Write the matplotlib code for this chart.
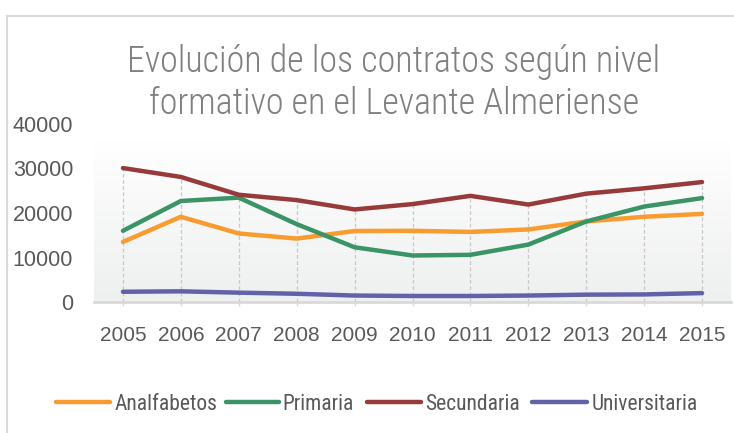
import matplotlib
matplotlib.use("Agg")
import matplotlib.pyplot as plt
import numpy as np
from matplotlib import font_manager as fm
from matplotlib.lines import Line2D

years = ["2005", "2006", "2007", "2008", "2009", "2010", "2011", "2012", "2013", "2014", "2015"]
analfabetos = [13500, 19150, 15400, 14250, 15950, 16000, 15750, 16300, 18100, 19150, 19800]
primaria = [16000, 22700, 23450, 17500, 12300, 10450, 10600, 12900, 18100, 21450, 23350]
secundaria = [30100, 28100, 24100, 22900, 20800, 22000, 23850, 21900, 24350, 25550, 26950]
universitaria = [2300, 2400, 2100, 1850, 1450, 1350, 1350, 1450, 1650, 1700, 2000]

series_names = ["Analfabetos", "Primaria", "Secundaria", "Universitaria"]
series_values = [analfabetos, primaria, secundaria, universitaria]
series_colors = ["#F89C30", "#3A9465", "#973A3A", "#6262AA"]
y_ticks = [0, 10000, 20000, 30000, 40000]
title_lines = ["Evolución de los contratos según nivel", "formativo en el Levante Almeriense"]

names = {f.name for f in fm.fontManager.ttflist}
narrow = "Liberation Sans"
for cand in ["Liberation Sans Narrow", "DejaVu Sans Condensed", "Roboto Condensed", "Open Sans Condensed"]:
    if cand in names:
        narrow = cand
        break
plt.rcParams["font.family"] = [narrow, "DejaVu Sans"]

W, H = 734, 433
fig = plt.figure(figsize=(W / 100, H / 100), dpi=100)
renderer = fig.canvas.get_renderer()

# outer chart frame
frame = "#D9D9D9"
fig.add_artist(Line2D([7 / W, 1.0], [1 - 16 / H, 1 - 16 / H], color=frame, lw=1.5, transform=fig.transFigure))
fig.add_artist(Line2D([7 / W, 7 / W], [0, 1 - 16 / H], color=frame, lw=1.5, transform=fig.transFigure))

left, right = 94 / W, 731 / W
bottom, top = 1 - 302 / H, 1 - 124 / H
ax = fig.add_axes([left, bottom, right - left, top - bottom])

x = np.arange(len(years))
ax.set_xlim(-0.5, len(years) - 0.5)
ax.set_ylim(0, 40000)

# plot-area gradient fill (white at top fading to light grey)
grad = np.linspace(1.0, 0.0, 256).reshape(-1, 1)
top_c = np.array([1.0, 1.0, 1.0])
bot_c = np.array([0xEE, 0xEF, 0xEF]) / 255
img = grad[..., None] * top_c + (1 - grad[..., None]) * bot_c
ax.imshow(img, aspect="auto", extent=[-0.5, len(years) - 0.5, 0, 36000], zorder=0)

# drop lines from the highest series down to the axis
tops = np.max(np.array(series_values), axis=0)
ax.vlines(x, 0, tops, colors="#C8C8C8", lw=0.9, linestyles=(0, (3, 2)), zorder=1)

for name, vals, col in zip(series_names, series_values, series_colors):
    ax.plot(x, vals, color=col, lw=3.2, solid_capstyle="round", solid_joinstyle="round", label=name, zorder=3)

for s in ["top", "right", "left"]:
    ax.spines[s].set_visible(False)
ax.spines["bottom"].set_color("#D9D9D9")
ax.spines["bottom"].set_linewidth(2)

ax.set_xticks(x)
ax.set_xticklabels(years)
ax.set_yticks(y_ticks)
ax.set_yticklabels([str(v) for v in y_ticks])
ax.tick_params(axis="x", length=3, color="#D9D9D9", width=1, pad=14, labelsize=15, labelcolor="#595959")
ax.tick_params(axis="y", length=0, pad=15, labelsize=15.5, labelcolor="#595959")
for lbl in ax.get_xticklabels() + ax.get_yticklabels():
    lbl.set_fontfamily(["Liberation Sans", "DejaVu Sans"])


def fit_size(texts, target_px):
    # scale a group of texts to a common size so their summed width hits target_px
    total = sum(t.get_window_extent(renderer).width for t in texts)
    size = texts[0].get_fontsize() * target_px / total
    for t in texts:
        t.set_fontsize(size)


# title, two centred lines
t1 = fig.text(394 / W, 1 - 62 / H, title_lines[0], ha="center", va="center", fontsize=25,
              color="#808080", fontweight="light")
t2 = fig.text(394 / W, 1 - 104 / H, title_lines[1], ha="center", va="center", fontsize=25,
              color="#808080", fontweight="light")
fit_size([t1], 534)
t2.set_fontsize(t1.get_fontsize())

# legend laid out along the bottom
leg_y = 1 - 402 / H
handle_spans = [(56, 110), (226, 279), (367, 421), (532, 587)]
label_x = [115, 282, 425, 592]
label_widths = [99, 75, 97, 106]
leg_texts = []
for name, col, (x0, x1), lx in zip(series_names, series_colors, handle_spans, label_x):
    fig.add_artist(Line2D([x0 / W, x1 / W], [leg_y, leg_y], color=col, lw=3.2,
                          solid_capstyle="round", transform=fig.transFigure))
    leg_texts.append(fig.text(lx / W, leg_y, name, ha="left", va="center_baseline",
                              fontsize=15, color="#595959"))
fit_size(leg_texts, sum(label_widths))

fig.savefig("out.png", dpi=100)
